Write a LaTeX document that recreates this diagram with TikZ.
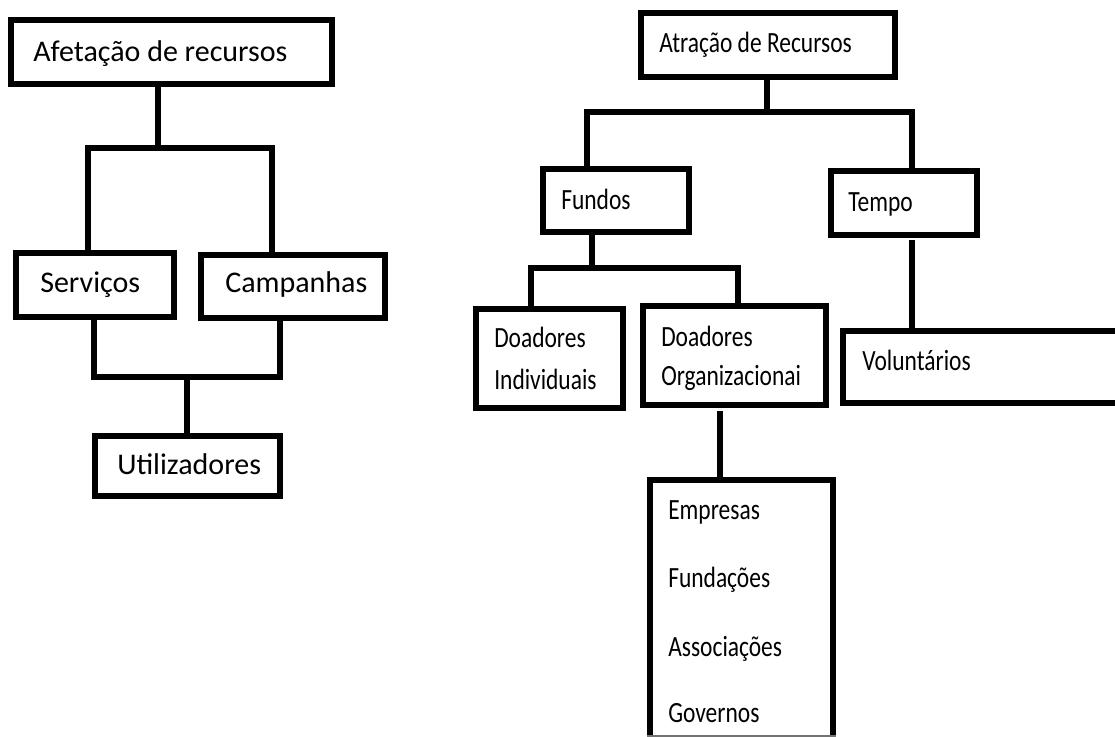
\documentclass[tikz,border=0pt]{standalone}
\usepackage{fontspec}
\setmainfont{Carlito}
\newfontfamily\narrowfont[FakeStretch=0.8]{Carlito}
\usetikzlibrary{fit}
\begin{document}
\begin{tikzpicture}[x=0.75pt, y=-0.75pt,
  box/.style={draw=black, line width=5pt, inner sep=0pt, line join=miter},
  conn/.style={draw=black, line width=5pt, line join=miter},
  lbl/.style={anchor=base west, inner sep=0pt, font=\fontsize{22.5pt}{26pt}\selectfont},
  nlbl/.style={anchor=base west, inner sep=0pt, font=\fontsize{22pt}{26pt}\narrowfont}]
\clip (0,0) rectangle (1115,737);
\fill[white] (0,0) rectangle (1115,737);

% ---- left tree: allocation of resources ----
\node[box, fit={(11,20) (332,84)}] (afet) {};
\node[box, fit={(16,253) (174,317)}] (serv) {};
\node[box, fit={(201,255) (385,318)}] (camp) {};
\node[box, fit={(95,436) (280,496)}] (util) {};

\node[lbl] (tafet) at (33,62) {Afetação de recursos};
\node[lbl] (tserv) at (40,293) {Serviços};
\node[lbl] (tcamp) at (225,293) {Campanhas};
\node[lbl] (tutil) at (117,475) {Utilizadores};

\coordinate (aM) at (158,148);
\coordinate (aL) at (88,148);
\coordinate (aR) at (272,148);
\draw[conn] (afet.south -| aM) -- (aM);
\draw[conn] (serv.north -| aL) -- (aL) -- (aR) -- (camp.north -| aR);

\coordinate (sL) at (94,377);
\coordinate (sR) at (280,377);
\coordinate (sM) at (187,377);
\draw[conn] (serv.south -| sL) -- (sL) -- (sR) -- (camp.south -| sR);
\draw[conn] (sM) -- (util.north -| sM);

% ---- right tree: attraction of resources ----
\node[box, fit={(641,13) (895,77)}] (atr) {};
\node[box, fit={(543,169) (689,232)}] (fund) {};
\node[box, fit={(831,171) (977,235)}] (tempo) {};
\node[box, fit={(476,309) (623,408)}] (dind) {};
\node[box, fit={(643,306) (826,405)}] (dorg) {};
\node[box, fit={(843,331) (1135,403)}] (volu) {};
\node[box, fit={(650,480) (833,770)}] (lista) {};
\draw[black!55, line width=0.8pt] (lista.west |- 0,736) -- (lista.east |- 0,736);

\node[nlbl] (tatr) at (659,53) {Atração de Recursos};
\node[nlbl] (tfund) at (561,210) {Fundos};
\node[nlbl] (ttempo) at (848,212) {Tempo};
\node[nlbl] (tdind1) at (494,348) {Doadores};
\node[nlbl] (tdind2) at (494,390) {Individuais};
\node[nlbl] (tdorg1) at (661,347) {Doadores};
\begin{scope}
  \clip (650,360) rectangle (820,390);
  \node[nlbl] (tdorg2) at (661,386) {Organizacionai};
\end{scope}
\node[nlbl] (tvolu) at (862,371) {Voluntários};
\node[nlbl] (temp) at (668,520) {Empresas};
\node[nlbl] (tfundac) at (668,588) {Fundações};
\node[nlbl] (tassoc) at (668,657) {Associações};
\node[nlbl] (tgov) at (668,723) {Governos};

\coordinate (rM) at (767,112);
\coordinate (rL) at (587,112);
\coordinate (rR) at (912,112);
\draw[conn] (atr.south -| rM) -- (rM);
\draw[conn] (fund.north -| rL) -- (rL) -- (rR) -- (tempo.north -| rR);

\coordinate (fM) at (592,268);
\coordinate (fL) at (531,268);
\coordinate (fR) at (738,268);
\draw[conn] (fund.south -| fM) -- (fM);
\draw[conn] (dind.north -| fL) -- (fL) -- (fR) -- (dorg.north -| fR);

\coordinate (tX) at (912,240);
\draw[conn] (tX) -- (volu.north -| tX);

\coordinate (oX) at (720,411);
\draw[conn] (oX) -- (lista.north -| oX);
\end{tikzpicture}
\end{document}
